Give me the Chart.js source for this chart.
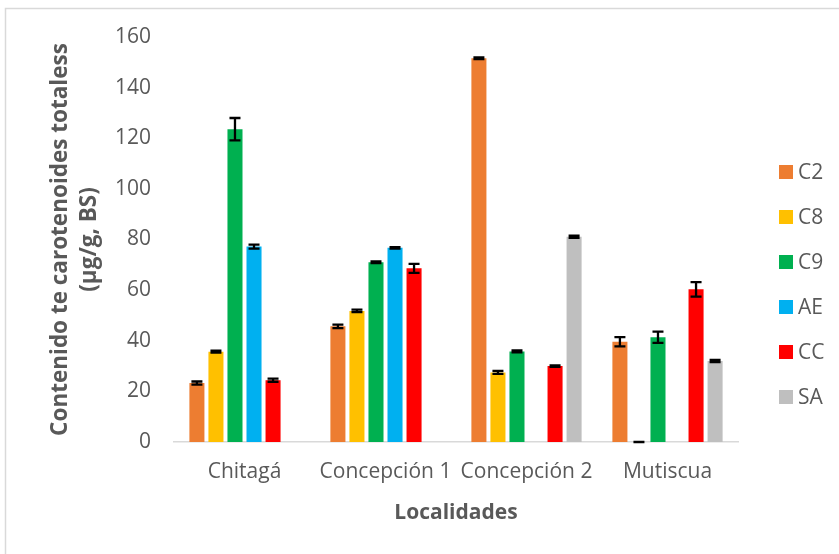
<!DOCTYPE html>
<html>
<head>
<meta charset="utf-8">
<script src="https://cdn.jsdelivr.net/npm/chart.js@4"></script>
<style>
  html, body { margin: 0; padding: 0; background: #fff; }
  #wrap { width: 839px; height: 554px; }
</style>
</head>
<body>
<div id="wrap"><canvas id="chart1"></canvas></div>
<script>
const localidades = ["Chitagá", "Concepción 1", "Concepción 2", "Mutiscua"];
const seriesNames = ["C2", "C8", "C9", "AE", "CC", "SA"];
const seriesColors = ["#ED7D31", "#FFC000", "#00B050", "#00B0F0", "#FF0000", "#BFBFBF"];

// mean values (µg/g, BS)
const c2 = [23.3, 45.7, 151.6, 39.6];
const c8 = [35.7, 51.8, 27.5, 0];
const c9 = [123.6, 71.0, 35.8, 41.4];
const ae = [77.2, 76.7, null, null];
const cc = [24.4, 68.6, 30.0, 60.3];
const sa = [null, null, 81.1, 32.0];

// error bars (+/-)
const c2Err = [0.6, 0.7, 0.3, 1.8];
const c8Err = [0.4, 0.5, 0.6, 0];
const c9Err = [4.4, 0.3, 0.4, 2.2];
const aeErr = [0.8, 0.3, null, null];
const ccErr = [0.6, 1.8, 0.3, 2.9];
const saErr = [null, null, 0.4, 0.4];

const yTicks = [0, 20, 40, 60, 80, 100, 120, 140, 160];
const yTitleLines = ["Contenido te carotenoides totaless", "(µg/g, BS)"];

const values = [c2, c8, c9, ae, cc, sa];
const errors = [c2Err, c8Err, c9Err, aeErr, ccErr, saErr];

const textColor = "#595959";
const fontName = "'Open Sans', sans-serif";

// frame round the chart
const framePlugin = {
  id: "frame",
  beforeDraw(chart) {
    const ctx = chart.ctx;
    ctx.save();
    ctx.strokeStyle = "#D9D9D9";
    ctx.lineWidth = 1.5;
    ctx.strokeRect(5.5, 8.5, 900, 600);
    ctx.restore();
  },
};

// error bars drawn from the y scale
const errorBarPlugin = {
  id: "errorBars",
  afterDatasetsDraw(chart) {
    const ctx = chart.ctx;
    const yScale = chart.scales.y;
    ctx.save();
    ctx.strokeStyle = "#000";
    ctx.lineWidth = 2.3;
    chart.data.datasets.forEach((ds, di) => {
      const meta = chart.getDatasetMeta(di);
      meta.data.forEach((bar, i) => {
        const v = ds.data[i];
        const e = ds.errors[i];
        if (v === null || e === null) return;
        const x = bar.x;
        const yTop = yScale.getPixelForValue(v + e);
        const yBot = yScale.getPixelForValue(Math.max(0, v - e));
        ctx.beginPath();
        ctx.moveTo(x, yTop);
        ctx.lineTo(x, yBot);
        ctx.moveTo(x - 5.5, yTop);
        ctx.lineTo(x + 5.5, yTop);
        ctx.moveTo(x - 5.5, yBot);
        ctx.lineTo(x + 5.5, yBot);
        ctx.stroke();
      });
    });
    ctx.restore();
  },
};

// two-line rotated y title and the side legend
const textPlugin = {
  id: "sideTexts",
  afterDraw(chart) {
    const ctx = chart.ctx;
    const area = chart.chartArea;
    ctx.save();
    ctx.fillStyle = textColor;
    ctx.font = "bold 22.5px " + fontName;
    ctx.textAlign = "center";
    ctx.textBaseline = "middle";
    const midY = (area.top + area.bottom) / 2;
    yTitleLines.forEach((line, i) => {
      ctx.save();
      ctx.translate(61 + i * 29, midY);
      ctx.rotate(-Math.PI / 2);
      ctx.fillText(line, 0, 0);
      ctx.restore();
    });

    ctx.font = "21px " + fontName;
    ctx.textAlign = "left";
    chart.data.datasets.forEach((ds, i) => {
      const y = 172 + i * 45;
      ctx.fillStyle = ds.backgroundColor;
      ctx.fillRect(779, y - 7, 14, 14);
      ctx.fillStyle = textColor;
      ctx.fillText(ds.label, 798, y + 1);
    });
    ctx.restore();
  },
};

const ctx = document.getElementById("chart1");

new Chart(ctx, {
  type: "bar",
  data: {
    labels: localidades,
    datasets: seriesNames.map((name, index) => ({
      label: name,
      data: values[index],
      errors: errors[index],
      backgroundColor: seriesColors[index],
      borderWidth: 0,
      categoryPercentage: 0.81,
      barPercentage: 0.79,
    })),
  },
  options: {
    responsive: true,
    maintainAspectRatio: false,
    animation: false,
    layout: {
      padding: { left: 0, right: 101, top: 37, bottom: 0 },
    },
    plugins: {
      legend: { display: false },
      tooltip: { enabled: false },
    },
    scales: {
      x: {
        grid: { display: false, drawTicks: false },
        border: { display: true, color: "#D9D9D9", width: 1.5 },
        ticks: {
          color: textColor,
          font: { family: fontName, size: 21 },
          padding: 17,
          maxRotation: 0,
          autoSkip: false,
        },
        title: {
          display: true,
          text: "Localidades",
          color: textColor,
          font: { family: fontName, size: 21, weight: "bold" },
          padding: { top: 0, bottom: 28 },
        },
        afterFit(scale) {
          scale.height = 112;
        },
      },
      y: {
        min: 0,
        max: 160,
        afterBuildTicks(scale) {
          scale.ticks = yTicks.map((v) => ({ value: v }));
        },
        grid: { display: false, drawTicks: false },
        border: { display: false },
        ticks: {
          color: textColor,
          font: { family: fontName, size: 21 },
          padding: 23,
        },
        afterFit(scale) {
          scale.width = 174;
        },
      },
    },
  },
  plugins: [framePlugin, errorBarPlugin, textPlugin],
});
</script>
</body>
</html>
